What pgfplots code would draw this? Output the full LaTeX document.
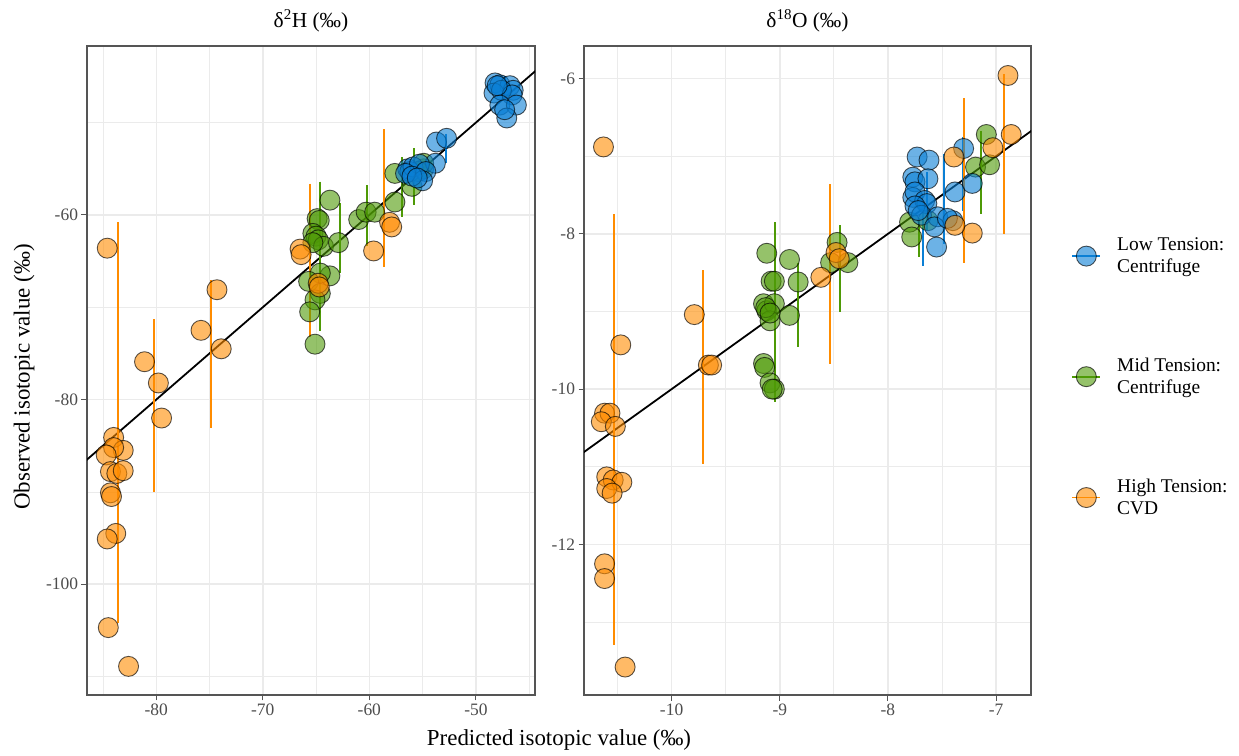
\documentclass[border=0pt]{standalone}
\usepackage{fontspec}
\setmainfont{Liberation Serif}
\usepackage{pgfplots}
\pgfplotsset{compat=1.18}
\definecolor{lowc}{RGB}{10,127,213}
\definecolor{midc}{RGB}{78,154,6}
\definecolor{highc}{RGB}{255,140,0}
\definecolor{gridc}{RGB}{235,235,235}
\definecolor{axc}{RGB}{85,85,85}
\definecolor{tlc}{RGB}{77,77,77}
\pgfplotsset{
  panel/.style={
    scale only axis, width=448bp, height=649bp, anchor=south west,
    axis line style={axc, line width=1.1bp},
    major tick style={axc, line width=1.0bp},
    tick align=outside, major tick length=5.5bp, minor tick length=0bp,
    tick pos=left,
    grid=both,
    major grid style={gridc, line width=1.5bp},
    minor grid style={gridc, line width=0.75bp},
    ticklabel style={font=\fontsize{17.5}{20}\selectfont, text=tlc},
    title style={font=\fontsize{21.5}{25}\selectfont, at={(0.5,1)}, anchor=south, yshift=8bp, inner sep=0pt},
  },
  pt/.style={only marks, mark=*, mark size=10bp,
    mark options={draw=black, draw opacity=0.65, fill=#1, fill opacity=0.6, line width=0.9bp}},
  eb/.style={#1, line width=2bp, unbounded coords=jump, mark=none},
}
\begin{document}
\begin{tikzpicture}
\path[use as bounding box] (0,0) rectangle (1239bp,756bp);
% ---------------- delta 2H ----------------
\begin{axis}[panel, at={(87bp,61bp)},
  xmin=-86.5, xmax=-44.45, ymin=-112.0, ymax=-41.7,
  xtick={-80,-70,-60,-50}, xticklabels={-80,-70,-60,-50},
  ytick={-100,-80,-60}, yticklabels={-100,-80,-60},
  minor xtick={-85,-75,-65,-55,-45},
  minor ytick={-110,-90,-70,-50},
  title={δ\textsuperscript{2}H (‰)}]
\addplot[black, line width=1.8bp] coordinates {(-90,-90) (-40,-40)};
\addplot[eb=lowc] coordinates {(-52.8,-51.2) (-52.8,-54.4) (-52.8,nan)
  (-47.3,-44.9) (-47.3,-46.5)};
\addplot[eb=midc] coordinates {(-64.6,-56.4) (-64.6,-72.6) (-64.6,nan)
  (-62.8,-58.7) (-62.8,-66.3) (-62.8,nan)
  (-60.2,-56.8) (-60.2,-63.4) (-60.2,nan)
  (-56.9,-53.75) (-56.9,-60.2) (-56.9,nan)
  (-55.8,-52.8) (-55.8,-58.9)};
\addplot[eb=highc] coordinates {(-83.6,-60.8) (-83.6,-104.2) (-83.6,nan)
  (-80.25,-71.3) (-80.25,-90.0) (-80.25,nan)
  (-74.9,-67.1) (-74.9,-83.1) (-74.9,nan)
  (-65.6,-56.6) (-65.6,-73.2) (-65.6,nan)
  (-58.6,-50.7) (-58.6,-65.6)};
\addplot[pt=midc] coordinates {
  (-63.7,-58.4) (-64.9,-60.4) (-64.7,-60.6) (-65.3,-62.0) (-65.0,-62.3)
  (-64.8,-62.7) (-64.3,-63.4) (-65.3,-63.0) (-62.9,-63.0) (-61.0,-60.5)
  (-60.3,-59.7) (-59.5,-59.7) (-57.6,-58.6) (-57.6,-55.5) (-56.0,-56.9)
  (-54.9,-55.0) (-54.9,-54.4) (-55.4,-55.3) (-63.7,-66.6) (-64.6,-66.3)
  (-65.7,-67.2) (-64.6,-68.5) (-65.1,-69.2) (-65.6,-70.5) (-65.1,-74.0)};
\addplot[pt=lowc] coordinates {
  (-48.2,-45.7) (-47.75,-45.9) (-46.8,-46.0) (-46.5,-46.5) (-48.3,-46.8)
  (-47.6,-46.5) (-46.6,-47.0) (-47.75,-48.1) (-46.2,-48.1) (-47.1,-49.5)
  (-47.3,-48.6) (-48.0,-46.0)
  (-53.7,-52.1) (-52.75,-51.7) (-53.8,-54.4)
  (-56.4,-55.0) (-56.2,-55.3) (-55.9,-54.8) (-55.3,-54.5) (-54.7,-55.3)
  (-55.0,-56.3) (-56.6,-55.5) (-56.0,-55.8) (-55.5,-56.0)};
\addplot[pt=highc] coordinates {
  (-84.6,-63.6) (-74.3,-68.1) (-75.8,-72.5) (-73.9,-74.5) (-81.1,-75.9)
  (-66.5,-63.7) (-66.4,-64.3) (-64.8,-67.4) (-64.7,-67.8) (-59.6,-63.9)
  (-58.1,-60.8) (-57.9,-61.3)
  (-79.8,-78.2) (-79.5,-82.0) (-84.0,-84.1) (-83.1,-85.5) (-84.0,-85.2)
  (-84.7,-86.0) (-84.3,-87.8) (-83.7,-88.0) (-83.1,-87.7) (-84.3,-90.1)
  (-84.2,-90.5) (-83.8,-94.5) (-84.6,-95.1) (-84.5,-104.7) (-82.6,-108.9)};
\end{axis}
% ---------------- delta 18O ----------------
\begin{axis}[panel, at={(584bp,61bp)}, width=447bp,
  xmin=-10.81, xmax=-6.677, ymin=-13.94, ymax=-5.58,
  xtick={-10,-9,-8,-7}, xticklabels={-10,-9,-8,-7},
  ytick={-12,-10,-8,-6}, yticklabels={-12,-10,-8,-6},
  minor xtick={-10.5,-9.5,-8.5,-7.5},
  minor ytick={-13,-11,-9,-7},
  title={δ\textsuperscript{18}O (‰)},
  legend style={draw=none, fill=none, at={(1.09,0.49)}, anchor=west,
    inner sep=0pt, row sep=80bp, font=\fontsize{19.5}{22}\selectfont,
    cells={align=left},
    /tikz/every odd column/.append style={column sep=14bp}},
  legend cell align=left]
\addlegendimage{legend image code/.code={
  \draw[lowc, line width=1.8bp] (0bp,0bp) -- (28bp,0bp);
  \draw[black, draw opacity=0.65, fill=lowc, fill opacity=0.6, line width=0.9bp] (14bp,0bp) circle (10bp);}}
\addlegendentry{Low Tension:\\Centrifuge}
\addlegendimage{legend image code/.code={
  \draw[midc, line width=1.8bp] (0bp,0bp) -- (28bp,0bp);
  \draw[black, draw opacity=0.65, fill=midc, fill opacity=0.6, line width=0.9bp] (14bp,0bp) circle (10bp);}}
\addlegendentry{Mid Tension:\\Centrifuge}
\addlegendimage{legend image code/.code={
  \draw[highc, line width=1.8bp] (0bp,0bp) -- (28bp,0bp);
  \draw[black, draw opacity=0.65, fill=highc, fill opacity=0.6, line width=0.9bp] (14bp,0bp) circle (10bp);}}
\addlegendentry{High Tension:\\CVD}
\addplot[black, line width=1.8bp, forget plot] coordinates {(-11,-11) (-6,-6)};
\addplot[eb=lowc, forget plot] coordinates {(-7.68,-7.6) (-7.68,-8.41) (-7.68,nan)
  (-7.48,-6.97) (-7.48,-8.13) (-7.48,nan)
  (-7.31,-6.75) (-7.31,-7.7) (-7.31,nan)
  (-7.64,-7.2) (-7.64,-7.95)};
\addplot[eb=midc, forget plot] coordinates {(-9.04,-7.85) (-9.04,-10.17) (-9.04,nan)
  (-8.83,-8.37) (-8.83,-9.46) (-8.83,nan)
  (-8.44,-7.89) (-8.44,-9.01) (-8.44,nan)
  (-7.14,-6.67) (-7.14,-7.74) (-7.14,nan)
  (-7.71,-7.8) (-7.71,-8.3)};
\addplot[eb=highc, forget plot] coordinates {(-10.53,-7.75) (-10.53,-13.30) (-10.53,nan)
  (-9.71,-8.47) (-9.71,-10.96) (-9.71,nan)
  (-8.54,-7.36) (-8.54,-9.67) (-8.54,nan)
  (-7.30,-6.25) (-7.30,-8.37) (-7.30,nan)
  (-6.93,-5.94) (-6.93,-8.0)};
\addplot[pt=midc, forget plot] coordinates {
  (-9.12,-8.25) (-8.91,-8.33) (-9.08,-8.61) (-9.05,-8.61) (-8.83,-8.62)
  (-9.15,-8.90) (-9.12,-8.99) (-9.05,-8.90) (-9.09,-9.12) (-8.91,-9.05)
  (-9.13,-8.95) (-9.09,-9.02) (-9.15,-9.67) (-9.14,-9.72) (-9.09,-9.92)
  (-9.05,-10.0) (-9.07,-10.0) (-8.47,-8.11) (-8.53,-8.37) (-8.37,-8.37)
  (-7.80,-7.85) (-7.78,-8.04) (-7.63,-7.83) (-7.19,-7.14) (-7.09,-6.72)
  (-7.06,-7.11)};
\addplot[pt=lowc, forget plot] coordinates {
  (-7.73,-7.01) (-7.62,-7.05) (-7.77,-7.27) (-7.75,-7.33) (-7.63,-7.29)
  (-7.77,-7.53) (-7.75,-7.46) (-7.66,-7.57) (-7.64,-7.61) (-7.75,-7.64)
  (-7.69,-7.76) (-7.54,-7.78) (-7.40,-7.83) (-7.38,-7.46) (-7.30,-6.90)
  (-7.22,-7.35) (-7.55,-8.17) (-7.57,-7.91) (-7.72,-7.70) (-7.45,-7.80)};
\addplot[pt=highc, forget plot] coordinates {
  (-10.63,-6.88) (-6.89,-5.96) (-6.86,-6.72) (-7.03,-6.89) (-7.39,-7.01)
  (-7.22,-7.99) (-7.38,-7.89) (-9.79,-9.04) (-8.62,-8.56) (-8.48,-8.24)
  (-8.45,-8.32) (-10.47,-9.43) (-9.66,-9.69) (-9.63,-9.69)
  (-10.62,-10.31) (-10.57,-10.31) (-10.65,-10.42) (-10.52,-10.48)
  (-10.60,-11.13) (-10.54,-11.17) (-10.46,-11.20) (-10.60,-11.28) (-10.55,-11.34)
  (-10.62,-12.25) (-10.62,-12.44) (-10.43,-13.58)};
\end{axis}
\node[font=\fontsize{23}{27}\selectfont, inner sep=0pt] at (559bp,16bp) {Predicted isotopic value (‰)};
\node[font=\fontsize{23}{27}\selectfont, inner sep=0pt, rotate=90] at (24bp,379bp) {Observed isotopic value (‰)};
\end{tikzpicture}
\end{document}
